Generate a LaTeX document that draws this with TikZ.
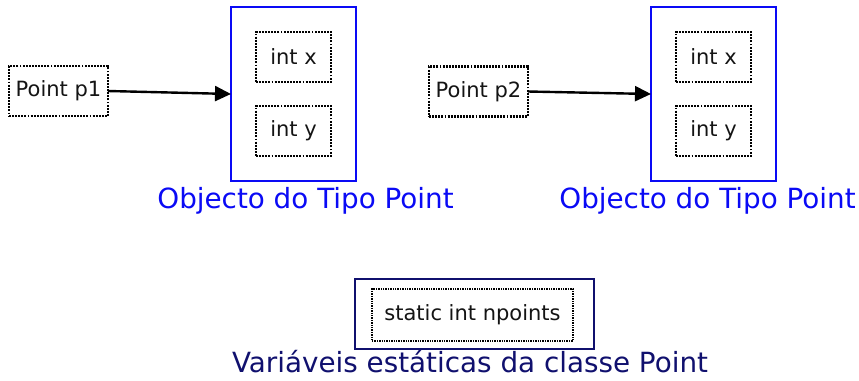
\documentclass[tikz,border=0pt]{standalone}
\usepackage{fontspec}
\setmainfont{DejaVu Sans}
\usetikzlibrary{arrows.meta}
\definecolor{objblue}{RGB}{10,10,245}
\definecolor{navyc}{RGB}{16,16,110}
\definecolor{txtgray}{RGB}{20,20,20}
\begin{document}
\begin{tikzpicture}[x=0.5pt,y=-0.5pt,
  every node/.style={inner sep=0pt, outer sep=0pt},
  dotbox/.style={draw=black, line width=1.25pt, dash pattern=on 0.95pt off 0.6pt,
    font=\fontsize{10.5}{12}\selectfont, text=txtgray},
  refbox/.style={dotbox, minimum width=49.5pt, minimum height=25pt},
  fieldbox/.style={dotbox, minimum width=37.5pt, minimum height=25pt},
  objbox/.style={draw=objblue, line width=1.25pt, minimum width=62.5pt, minimum height=87pt},
  objlabel/.style={anchor=base, text=objblue, font=\fontsize{13.9}{16}\selectfont},
  ptr/.style={-{Triangle[length=8pt,width=7.5pt]}, line width=1.2pt, black}]
\useasboundingbox (0,0) rectangle (859,381);
% first object
\node[refbox] (p1) at (58.5,91) {Point p1};
\node[objbox] (o1) at (293.5,94) {};
\node[fieldbox] (x1) at (293.5,57) {int x};
\node[fieldbox] (y1) at (293.5,131) {int y};
\node[objlabel] (l1) at (305.5,208) {Objecto do Tipo Point};
\draw[ptr] (p1.east) -- (o1.west);
% second object
\node[refbox] (p2) at (478.5,91.5) {Point p2};
\node[objbox] (o2) at (713.5,94) {};
\node[fieldbox] (x2) at (713.5,57) {int x};
\node[fieldbox] (y2) at (713.5,131) {int y};
\node[objlabel] (l2) at (707.5,208) {Objecto do Tipo Point};
\draw[ptr] (p2.east) -- (o2.west);
% static variables
\node[draw=navyc, line width=1.25pt, minimum width=119.5pt, minimum height=35pt] (cls) at (474.5,314) {};
\node[draw=black, line width=0.9pt, dash pattern=on 0.7pt off 0.5pt,
  minimum width=100.5pt, minimum height=26pt, font=\fontsize{10.5}{12}\selectfont, text=txtgray] (np) at (472.5,315) {static int npoints};
\node[anchor=base, text=navyc, font=\fontsize{13.9}{16}\selectfont] (l3) at (470,372) {Variáveis estáticas da classe Point};
\end{tikzpicture}
\end{document}
